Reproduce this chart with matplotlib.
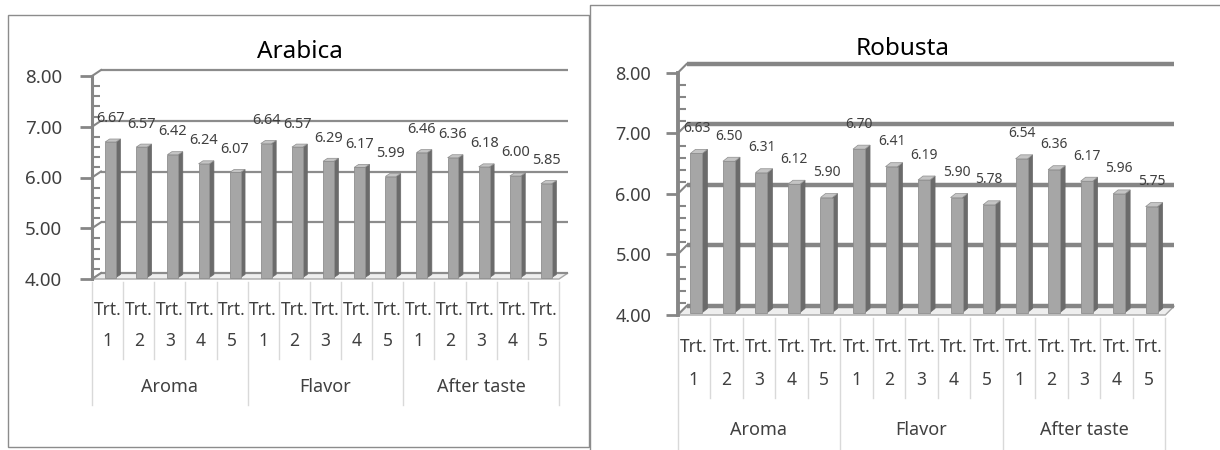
import numpy as np
import matplotlib.pyplot as plt
from matplotlib.patches import Polygon, Rectangle
from matplotlib.lines import Line2D
from matplotlib.ticker import FixedLocator, MultipleLocator, FormatStrFormatter

plt.rcParams['font.family'] = ['Noto Sans', 'DejaVu Sans']

# sensory scores, three attributes x five treatments
groups = ['Aroma', 'Flavor', 'After taste']
trt_numbers = ['1', '2', '3', '4', '5']
arabica = [6.67, 6.57, 6.42, 6.24, 6.07,
           6.64, 6.57, 6.29, 6.17, 5.99,
           6.46, 6.36, 6.18, 6.00, 5.85]
robusta = [6.63, 6.50, 6.31, 6.12, 5.90,
           6.70, 6.41, 6.19, 5.90, 5.78,
           6.54, 6.36, 6.17, 5.96, 5.75]
y_ticks = [4, 5, 6, 7, 8]
y_min, y_max = 4, 8

W, H = 1220, 450
fig = plt.figure(figsize=(W / 100, H / 100), dpi=100)

FRONT = '#a6a6a6'
SIDE = '#6b6b6b'
TOP = '#c4c4c4'
AXIS = '#868686'
TEXT = '#404040'


def draw_chart(box, values, title, title_xy, st):
    x0, ytop, x1, ybot = box
    ax = fig.add_axes([x0 / W, 1 - ybot / H, (x1 - x0) / W, (ybot - ytop) / H])
    n = len(values)
    ax.set_xlim(-0.5, n - 0.5)
    ax.set_ylim(y_min, y_max)
    ux = (x1 - x0) / n
    uy = (ybot - ytop) / (y_max - y_min)

    def px(dx, dy):
        return dx / ux, dy / uy

    # floor and back wall gridlines
    gx, gy = px(*st['depth'])
    floor = Polygon([(-0.5, y_min), (n - 0.5, y_min), (n - 0.5 + gx, y_min + gy),
                     (-0.5 + gx, y_min + gy)], closed=True, fc='#eeeeee',
                    ec='#a8a8a8', lw=1, clip_on=False, zorder=1)
    ax.add_patch(floor)
    for t in y_ticks:
        ax.plot([-0.5 + gx, n - 0.5 + gx], [t + gy, t + gy], color=st['grid_color'],
                lw=st['grid_lw'], clip_on=False, zorder=1.5, solid_capstyle='butt')
        ax.plot([-0.5, -0.5 + gx], [t, t + gy], color=AXIS, lw=1.5,
                clip_on=False, zorder=1.5)

    # bars with a side and top face
    sx, sy = px(*st['shift'])
    bdx, bdy = px(*st['bar_depth'])
    bw = st['bar_width']
    xs = np.arange(n) + sx
    vals = np.array(values)
    ax.bar(xs, vals - y_min, width=bw, bottom=y_min + sy, color=FRONT,
           edgecolor='#8e8e8e', linewidth=0.6, zorder=3)
    for xi, v in zip(xs, vals):
        xl, xr = xi - bw / 2, xi + bw / 2
        side = Polygon([(xr, y_min + sy), (xr + bdx, y_min + sy + bdy),
                        (xr + bdx, v + sy + bdy), (xr, v + sy)],
                       closed=True, fc=SIDE, ec=SIDE, lw=0.5, zorder=2.9)
        top = Polygon([(xl, v + sy), (xr, v + sy), (xr + bdx, v + sy + bdy),
                       (xl + bdx, v + sy + bdy)],
                      closed=True, fc=TOP, ec='#8e8e8e', lw=0.5, zorder=2.9)
        ax.add_patch(side)
        ax.add_patch(top)
        ax.annotate(f'{v:.2f}', (xi, v + sy), xytext=(0, st['label_off']),
                    textcoords='offset pixels', ha='center', va='center',
                    fontsize=st['label_size'], color=TEXT, zorder=5,
                    annotation_clip=False)

    # value axis
    for side_name in ['top', 'right', 'bottom']:
        ax.spines[side_name].set_visible(False)
    ax.spines['left'].set_color(AXIS)
    ax.spines['left'].set_linewidth(st['axis_lw'])
    ax.set_xticks([])
    ax.yaxis.set_major_locator(FixedLocator(y_ticks))
    ax.yaxis.set_minor_locator(MultipleLocator(0.2))
    ax.yaxis.set_major_formatter(FormatStrFormatter('%.2f'))
    ax.tick_params(axis='y', which='major', direction='out', length=9, width=2,
                   color=AXIS, pad=st['tick_pad'], labelsize=st['tick_size'],
                   labelcolor=TEXT)
    ax.tick_params(axis='y', which='minor', direction='in', length=6, width=1.5,
                   color=AXIS)
    ax.patch.set_alpha(0)

    # category table under the plot
    for k in range(n + 1):
        long_line = k % len(trt_numbers) == 0
        bottom = st['group_sep'] if long_line else st['inner_sep']
        ax.plot([k - 0.5, k - 0.5], [y_min - 3 / uy, y_min - bottom / uy],
                color='#d9d9d9', lw=1, clip_on=False, zorder=1)
    for k in range(n):
        ax.text(k, y_min - st['trt_y'] / uy, 'Trt.', ha='center', va='center',
                fontsize=12.5, color=TEXT)
        ax.text(k, y_min - st['num_y'] / uy, trt_numbers[k % len(trt_numbers)],
                ha='center', va='center', fontsize=12.5, color=TEXT)
    for g, name in enumerate(groups):
        centre = g * len(trt_numbers) + (len(trt_numbers) - 1) / 2
        ax.text(centre, y_min - st['group_y'] / uy, name, ha='center',
                va='center', fontsize=13, color=TEXT)

    fig.text(title_xy[0] / W, 1 - title_xy[1] / H, title, ha='center',
             va='center', fontsize=17.5, color='black')
    return ax


left_style = dict(depth=(9, 6), shift=(3, 1.5), bar_depth=(4.5, 3), bar_width=0.35,
                  grid_color='#8c8c8c', grid_lw=1.6, axis_lw=2.2, label_off=23,
                  label_size=10.5, tick_pad=12.5, tick_size=13.5, inner_sep=80,
                  group_sep=126, trt_y=31, num_y=62, group_y=108)
right_style = dict(depth=(9, 9), shift=(2.6, 2.5), bar_depth=(5, 4), bar_width=0.37,
                   grid_color='#858585', grid_lw=3.2, axis_lw=2.8, label_off=25,
                   label_size=10, tick_pad=10, tick_size=13, inner_sep=83,
                   group_sep=140, trt_y=32, num_y=65, group_y=115)

draw_chart((92, 76, 559, 279), arabica, 'Arabica', (300, 52), left_style)
draw_chart((677.6, 73, 1165.3, 315), robusta, 'Robusta', (903, 49), right_style)

# panel frames
fig.add_artist(Rectangle((8 / W, 1 - 447 / H), (589 - 8) / W, (447 - 15) / H,
                         transform=fig.transFigure, fill=False, ec='#8c8c8c', lw=1))
fig.add_artist(Line2D([590 / W, 590 / W, 1], [0, 1 - 5 / H, 1 - 5 / H],
                      transform=fig.transFigure, color='#8c8c8c', lw=1))

fig.savefig('out.png', dpi=100, facecolor='white')
